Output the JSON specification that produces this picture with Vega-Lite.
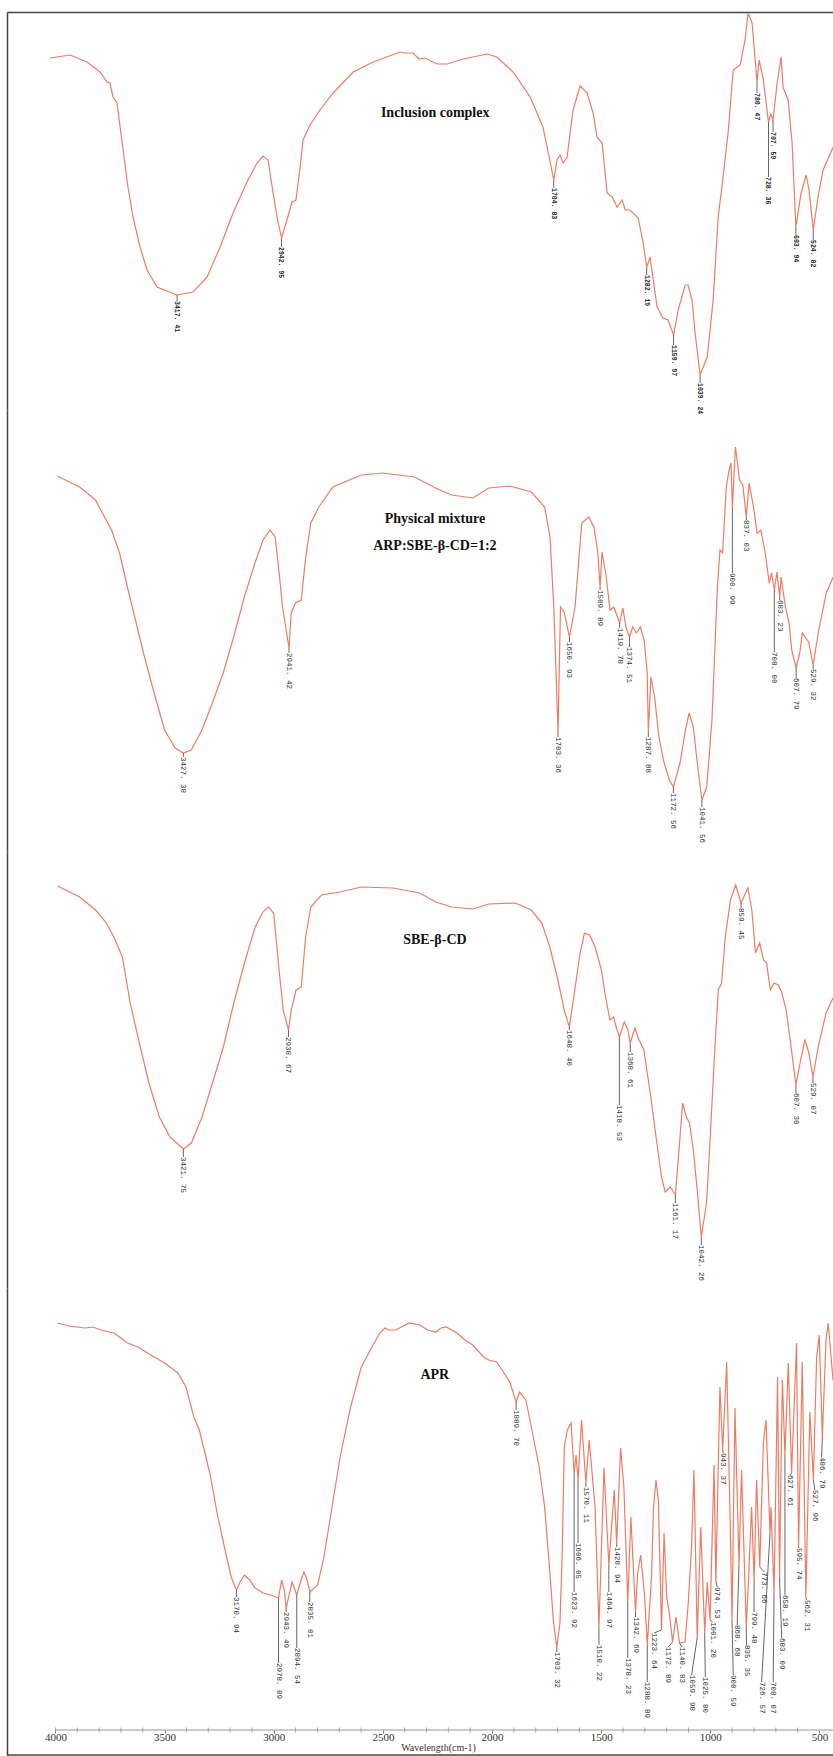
{
  "$schema": "https://vega.github.io/schema/vega-lite/v6.json",
  "background": "white",
  "padding": {"left": 6, "top": 12, "right": 0, "bottom": 0},
  "autosize": {"type": "pad"},
  "spacing": 0,
  "bounds": "flush",
  "config": {"view": {"stroke": null}, "axis": {"grid": false}},
  "datasets": {
    "s1": [{"nu":3995,"T":352},{"nu":3904,"T":355},{"nu":3827,"T":348},{"nu":3768,"T":338},{"nu":3736,"T":328},{"nu":3723,"T":327},{"nu":3709,"T":313},{"nu":3691,"T":307},{"nu":3663,"T":260},{"nu":3641,"T":223},{"nu":3618,"T":193},{"nu":3586,"T":163},{"nu":3554,"T":140},{"nu":3509,"T":123},{"nu":3417.41,"T":115},{"nu":3345,"T":118},{"nu":3281,"T":133},{"nu":3222,"T":163},{"nu":3163,"T":197},{"nu":3100,"T":228},{"nu":3054,"T":247},{"nu":3027,"T":254},{"nu":3004,"T":250},{"nu":2981,"T":217},{"nu":2963,"T":193},{"nu":2942.95,"T":172},{"nu":2918,"T":190},{"nu":2895,"T":208},{"nu":2877,"T":210},{"nu":2858,"T":243},{"nu":2845,"T":270},{"nu":2813,"T":285},{"nu":2768,"T":300},{"nu":2708,"T":317},{"nu":2617,"T":338},{"nu":2526,"T":348},{"nu":2404,"T":358},{"nu":2381,"T":357},{"nu":2345,"T":357},{"nu":2317,"T":351},{"nu":2290,"T":352},{"nu":2235,"T":346},{"nu":2190,"T":346},{"nu":2117,"T":351},{"nu":2008,"T":356},{"nu":1963,"T":353},{"nu":1890,"T":338},{"nu":1812,"T":313},{"nu":1754,"T":283},{"nu":1735,"T":263},{"nu":1704.83,"T":230},{"nu":1690,"T":250},{"nu":1676,"T":255},{"nu":1662,"T":247},{"nu":1644,"T":253},{"nu":1617,"T":300},{"nu":1585,"T":324},{"nu":1553,"T":317},{"nu":1526,"T":297},{"nu":1508,"T":273},{"nu":1485,"T":267},{"nu":1462,"T":217},{"nu":1439,"T":213},{"nu":1417,"T":203},{"nu":1394,"T":210},{"nu":1380,"T":200},{"nu":1358,"T":200},{"nu":1321,"T":192},{"nu":1298,"T":167},{"nu":1282.19,"T":143},{"nu":1267,"T":153},{"nu":1235,"T":103},{"nu":1208,"T":92},{"nu":1185,"T":90},{"nu":1159.97,"T":75},{"nu":1139,"T":100},{"nu":1107,"T":125},{"nu":1094,"T":125},{"nu":1076,"T":110},{"nu":1062,"T":77},{"nu":1039.24,"T":35},{"nu":1007,"T":53},{"nu":980,"T":110},{"nu":957,"T":193},{"nu":935,"T":233},{"nu":912,"T":277},{"nu":889,"T":340},{"nu":857,"T":345},{"nu":835,"T":370},{"nu":821,"T":397},{"nu":803,"T":387},{"nu":780.47,"T":328},{"nu":771,"T":350},{"nu":753,"T":332},{"nu":728.36,"T":288},{"nu":718,"T":296},{"nu":707.59,"T":290},{"nu":689,"T":327},{"nu":671,"T":353},{"nu":662,"T":323},{"nu":639,"T":310},{"nu":621,"T":267},{"nu":603.94,"T":183},{"nu":580,"T":217},{"nu":557,"T":235},{"nu":544,"T":220},{"nu":524.82,"T":180},{"nu":503,"T":213},{"nu":480,"T":240},{"nu":434,"T":263}],
    "k1": [{"nu":3417.41,"T":115,"lx":3417.41,"ly":109,"label":"3417. 41"},{"nu":2942.95,"T":172,"lx":2942.95,"ly":163,"label":"2942. 95"},{"nu":1704.83,"T":230,"lx":1704.83,"ly":222,"label":"1704. 83"},{"nu":1282.19,"T":143,"lx":1282.19,"ly":135,"label":"1282. 19"},{"nu":1159.97,"T":75,"lx":1159.97,"ly":65,"label":"1159. 97"},{"nu":1039.24,"T":35,"lx":1039.24,"ly":27,"label":"1039. 24"},{"nu":780.47,"T":328,"lx":780.47,"ly":317,"label":"780. 47"},{"nu":728.36,"T":288,"lx":728.36,"ly":233,"label":"728. 36"},{"nu":707.59,"T":290,"lx":707.59,"ly":278,"label":"707. 59"},{"nu":603.94,"T":183,"lx":603.94,"ly":175,"label":"603. 94"},{"nu":524.82,"T":180,"lx":524.82,"ly":170,"label":"524. 82"}],
    "s2": [{"nu":4007,"T":376},{"nu":3905,"T":365},{"nu":3832,"T":352},{"nu":3758,"T":322},{"nu":3721,"T":299},{"nu":3685,"T":265},{"nu":3648,"T":232},{"nu":3611,"T":199},{"nu":3562,"T":159},{"nu":3514,"T":122},{"nu":3465,"T":104},{"nu":3427.38,"T":99},{"nu":3391,"T":102},{"nu":3342,"T":122},{"nu":3294,"T":149},{"nu":3244,"T":179},{"nu":3196,"T":215},{"nu":3147,"T":255},{"nu":3098,"T":289},{"nu":3061,"T":312},{"nu":3029,"T":322},{"nu":3005,"T":315},{"nu":2988,"T":282},{"nu":2971,"T":245},{"nu":2941.42,"T":204},{"nu":2931,"T":239},{"nu":2912,"T":249},{"nu":2885,"T":252},{"nu":2866,"T":292},{"nu":2841,"T":329},{"nu":2804,"T":345},{"nu":2740,"T":365},{"nu":2609,"T":377},{"nu":2511,"T":379},{"nu":2364,"T":375},{"nu":2267,"T":364},{"nu":2193,"T":357},{"nu":2095,"T":354},{"nu":2022,"T":364},{"nu":1925,"T":366},{"nu":1826,"T":360},{"nu":1765,"T":345},{"nu":1740,"T":315},{"nu":1723,"T":245},{"nu":1703.36,"T":120},{"nu":1692,"T":245},{"nu":1675,"T":240},{"nu":1650.93,"T":215},{"nu":1625,"T":245},{"nu":1594,"T":329},{"nu":1562,"T":335},{"nu":1538,"T":325},{"nu":1520,"T":299},{"nu":1509.89,"T":265},{"nu":1501,"T":300},{"nu":1484,"T":279},{"nu":1464,"T":242},{"nu":1447,"T":245},{"nu":1419.78,"T":229},{"nu":1405,"T":244},{"nu":1391,"T":225},{"nu":1374.51,"T":215},{"nu":1360,"T":225},{"nu":1343,"T":219},{"nu":1324,"T":225},{"nu":1307,"T":212},{"nu":1293,"T":179},{"nu":1287.88,"T":120},{"nu":1276,"T":175},{"nu":1259,"T":155},{"nu":1239,"T":115},{"nu":1215,"T":89},{"nu":1191,"T":72},{"nu":1172.56,"T":65},{"nu":1142,"T":89},{"nu":1117,"T":122},{"nu":1100,"T":139},{"nu":1081,"T":125},{"nu":1064,"T":92},{"nu":1041.56,"T":52},{"nu":1019,"T":65},{"nu":995,"T":132},{"nu":970,"T":265},{"nu":958,"T":302},{"nu":946,"T":299},{"nu":929,"T":365},{"nu":916,"T":382},{"nu":907,"T":389},{"nu":900.99,"T":344},{"nu":887,"T":405},{"nu":868,"T":372},{"nu":853,"T":367},{"nu":837.03,"T":335},{"nu":824,"T":369},{"nu":804,"T":345},{"nu":787,"T":319},{"nu":770,"T":322},{"nu":750,"T":299},{"nu":731,"T":269},{"nu":721,"T":279},{"nu":708.0,"T":262},{"nu":696,"T":280},{"nu":683.23,"T":255},{"nu":677,"T":275},{"nu":657,"T":245},{"nu":640,"T":229},{"nu":628,"T":202},{"nu":607.79,"T":184},{"nu":591,"T":199},{"nu":579,"T":219},{"nu":567,"T":215},{"nu":550,"T":210},{"nu":529.32,"T":187},{"nu":506,"T":219},{"nu":469,"T":259},{"nu":437,"T":275}],
    "k2": [{"nu":3427.38,"T":99,"lx":3427.38,"ly":95,"label":"3427. 38"},{"nu":2941.42,"T":204,"lx":2941.42,"ly":199,"label":"2941. 42"},{"nu":1703.36,"T":120,"lx":1703.36,"ly":115,"label":"1703. 36"},{"nu":1650.93,"T":215,"lx":1650.93,"ly":210,"label":"1650. 93"},{"nu":1509.89,"T":265,"lx":1509.89,"ly":262,"label":"1509. 89"},{"nu":1419.78,"T":229,"lx":1419.78,"ly":224,"label":"1419. 78"},{"nu":1374.51,"T":215,"lx":1374.51,"ly":205,"label":"1374. 51"},{"nu":1287.88,"T":120,"lx":1287.88,"ly":115,"label":"1287. 88"},{"nu":1172.56,"T":65,"lx":1172.56,"ly":59,"label":"1172. 56"},{"nu":1041.56,"T":52,"lx":1041.56,"ly":45,"label":"1041. 56"},{"nu":900.99,"T":344,"lx":900.99,"ly":279,"label":"900. 99"},{"nu":837.03,"T":335,"lx":837.03,"ly":332,"label":"837. 03"},{"nu":708.0,"T":262,"lx":708.0,"ly":200,"label":"708. 00"},{"nu":683.23,"T":255,"lx":683.23,"ly":252,"label":"683. 23"},{"nu":607.79,"T":184,"lx":607.79,"ly":174,"label":"607. 79"},{"nu":529.32,"T":187,"lx":529.32,"ly":183,"label":"529. 32"}],
    "s3": [{"nu":4000,"T":402},{"nu":3898,"T":391},{"nu":3825,"T":378},{"nu":3775,"T":365},{"nu":3739,"T":350},{"nu":3702,"T":331},{"nu":3666,"T":285},{"nu":3624,"T":245},{"nu":3580,"T":205},{"nu":3532,"T":171},{"nu":3483,"T":151},{"nu":3421.75,"T":139},{"nu":3385,"T":145},{"nu":3336,"T":171},{"nu":3288,"T":205},{"nu":3238,"T":241},{"nu":3190,"T":285},{"nu":3141,"T":325},{"nu":3092,"T":361},{"nu":3056,"T":376},{"nu":3031,"T":381},{"nu":3007,"T":375},{"nu":2982,"T":318},{"nu":2963,"T":278},{"nu":2938.67,"T":258},{"nu":2926,"T":278},{"nu":2904,"T":298},{"nu":2880,"T":301},{"nu":2860,"T":351},{"nu":2836,"T":381},{"nu":2787,"T":393},{"nu":2702,"T":396},{"nu":2604,"T":401},{"nu":2458,"T":400},{"nu":2336,"T":395},{"nu":2262,"T":386},{"nu":2189,"T":381},{"nu":2092,"T":379},{"nu":2019,"T":384},{"nu":1896,"T":385},{"nu":1823,"T":378},{"nu":1775,"T":365},{"nu":1738,"T":341},{"nu":1701,"T":308},{"nu":1672,"T":278},{"nu":1648.4,"T":261},{"nu":1628,"T":291},{"nu":1599,"T":335},{"nu":1579,"T":355},{"nu":1555,"T":353},{"nu":1530,"T":341},{"nu":1501,"T":318},{"nu":1482,"T":291},{"nu":1462,"T":268},{"nu":1445,"T":271},{"nu":1433,"T":261},{"nu":1418.53,"T":251},{"nu":1396,"T":266},{"nu":1379,"T":258},{"nu":1368.61,"T":245},{"nu":1347,"T":260},{"nu":1328,"T":248},{"nu":1306,"T":238},{"nu":1274,"T":191},{"nu":1250,"T":151},{"nu":1225,"T":111},{"nu":1208,"T":96},{"nu":1184,"T":101},{"nu":1161.17,"T":93},{"nu":1147,"T":131},{"nu":1128,"T":185},{"nu":1111,"T":171},{"nu":1096,"T":165},{"nu":1079,"T":138},{"nu":1062,"T":101},{"nu":1042.26,"T":51},{"nu":1018,"T":85},{"nu":1001,"T":151},{"nu":981,"T":235},{"nu":964,"T":298},{"nu":949,"T":305},{"nu":932,"T":351},{"nu":908,"T":388},{"nu":884,"T":403},{"nu":859.45,"T":385},{"nu":847,"T":391},{"nu":828,"T":400},{"nu":810,"T":378},{"nu":793,"T":335},{"nu":774,"T":345},{"nu":756,"T":328},{"nu":742,"T":325},{"nu":725,"T":298},{"nu":708,"T":305},{"nu":688,"T":303},{"nu":672,"T":295},{"nu":652,"T":278},{"nu":632,"T":245},{"nu":607.3,"T":203},{"nu":583,"T":231},{"nu":566,"T":248},{"nu":549,"T":236},{"nu":529.07,"T":211},{"nu":505,"T":241},{"nu":469,"T":275},{"nu":437,"T":290}],
    "k3": [{"nu":3421.75,"T":139,"lx":3421.75,"ly":131,"label":"3421. 75"},{"nu":2938.67,"T":258,"lx":2938.67,"ly":251,"label":"2938. 67"},{"nu":1648.4,"T":261,"lx":1648.4,"ly":258,"label":"1648. 40"},{"nu":1418.53,"T":251,"lx":1418.53,"ly":183,"label":"1418. 53"},{"nu":1368.61,"T":245,"lx":1368.61,"ly":236,"label":"1368. 61"},{"nu":1161.17,"T":93,"lx":1161.17,"ly":85,"label":"1161. 17"},{"nu":1042.26,"T":51,"lx":1042.26,"ly":43,"label":"1042. 26"},{"nu":859.45,"T":385,"lx":859.45,"ly":380,"label":"859. 45"},{"nu":607.3,"T":203,"lx":607.3,"ly":195,"label":"607. 30"},{"nu":529.07,"T":211,"lx":529.07,"ly":205,"label":"529. 07"}],
    "s4": [{"nu":3991,"T":407},{"nu":3938,"T":404},{"nu":3901,"T":403},{"nu":3865,"T":402},{"nu":3828,"T":403},{"nu":3792,"T":400},{"nu":3755,"T":398},{"nu":3731,"T":397},{"nu":3707,"T":393},{"nu":3670,"T":387},{"nu":3646,"T":385},{"nu":3621,"T":383},{"nu":3585,"T":378},{"nu":3548,"T":373},{"nu":3500,"T":367},{"nu":3439,"T":357},{"nu":3402,"T":343},{"nu":3366,"T":313},{"nu":3341,"T":300},{"nu":3293,"T":257},{"nu":3256,"T":213},{"nu":3220,"T":177},{"nu":3195,"T":153},{"nu":3170.94,"T":140},{"nu":3154,"T":148},{"nu":3134,"T":155},{"nu":3110,"T":150},{"nu":3086,"T":142},{"nu":3049,"T":137},{"nu":3013,"T":135},{"nu":2978.09,"T":132},{"nu":2964,"T":150},{"nu":2952,"T":140},{"nu":2943.49,"T":122},{"nu":2916,"T":148},{"nu":2894.54,"T":135},{"nu":2879,"T":147},{"nu":2862,"T":158},{"nu":2847,"T":150},{"nu":2835.01,"T":138},{"nu":2799,"T":145},{"nu":2770,"T":173},{"nu":2733,"T":223},{"nu":2696,"T":273},{"nu":2648,"T":323},{"nu":2599,"T":363},{"nu":2550,"T":383},{"nu":2514,"T":397},{"nu":2490,"T":402},{"nu":2472,"T":400},{"nu":2441,"T":400},{"nu":2380,"T":407},{"nu":2331,"T":405},{"nu":2295,"T":400},{"nu":2258,"T":398},{"nu":2234,"T":402},{"nu":2210,"T":403},{"nu":2161,"T":397},{"nu":2124,"T":390},{"nu":2088,"T":385},{"nu":2039,"T":373},{"nu":2015,"T":370},{"nu":1979,"T":368},{"nu":1954,"T":360},{"nu":1917,"T":347},{"nu":1889.7,"T":328},{"nu":1874,"T":338},{"nu":1845,"T":330},{"nu":1820,"T":303},{"nu":1784,"T":263},{"nu":1759,"T":223},{"nu":1735,"T":157},{"nu":1718,"T":107},{"nu":1703.32,"T":83},{"nu":1689,"T":107},{"nu":1679,"T":173},{"nu":1669,"T":283},{"nu":1655,"T":300},{"nu":1638,"T":307},{"nu":1623.92,"T":257},{"nu":1615,"T":275},{"nu":1606.05,"T":250},{"nu":1590,"T":310},{"nu":1570.11,"T":247},{"nu":1555,"T":290},{"nu":1528,"T":223},{"nu":1510.22,"T":103},{"nu":1487,"T":262},{"nu":1464.97,"T":165},{"nu":1440,"T":240},{"nu":1428.94,"T":187},{"nu":1411,"T":282},{"nu":1396,"T":243},{"nu":1378.23,"T":128},{"nu":1364,"T":213},{"nu":1342.69,"T":118},{"nu":1333,"T":157},{"nu":1319,"T":175},{"nu":1302,"T":137},{"nu":1288.89,"T":85},{"nu":1269,"T":155},{"nu":1261,"T":220},{"nu":1249,"T":250},{"nu":1238,"T":230},{"nu":1223.64,"T":100},{"nu":1212,"T":197},{"nu":1200,"T":133},{"nu":1188,"T":117},{"nu":1172.89,"T":88},{"nu":1157,"T":113},{"nu":1140.83,"T":87},{"nu":1116,"T":88},{"nu":1101,"T":127},{"nu":1086,"T":183},{"nu":1075,"T":260},{"nu":1059.98,"T":92},{"nu":1044,"T":203},{"nu":1025.8,"T":97},{"nu":1014,"T":148},{"nu":1001.2,"T":110},{"nu":983,"T":265},{"nu":974.53,"T":148},{"nu":956,"T":343},{"nu":943.37,"T":280},{"nu":925,"T":368},{"nu":910,"T":217},{"nu":900.59,"T":110},{"nu":887,"T":322},{"nu":868.68,"T":165},{"nu":857,"T":260},{"nu":835.35,"T":103},{"nu":823,"T":160},{"nu":811,"T":223},{"nu":799.48,"T":150},{"nu":788,"T":250},{"nu":773.66,"T":163},{"nu":757,"T":287},{"nu":745,"T":310},{"nu":726.57,"T":197},{"nu":722,"T":223},{"nu":708.07,"T":137},{"nu":692,"T":353},{"nu":683.09,"T":153},{"nu":670,"T":350},{"nu":658.19,"T":275},{"nu":643,"T":367},{"nu":627.61,"T":257},{"nu":605,"T":387},{"nu":595.74,"T":183},{"nu":579,"T":368},{"nu":562.31,"T":132},{"nu":544,"T":318},{"nu":527.96,"T":250},{"nu":513,"T":373},{"nu":501,"T":395},{"nu":486.79,"T":293},{"nu":470,"T":390},{"nu":460,"T":407},{"nu":438,"T":350}],
    "k4": [{"nu":3170.94,"T":140,"lx":3170.94,"ly":133,"label":"3170. 94"},{"nu":2978.09,"T":132,"lx":2978.09,"ly":67,"label":"2978. 09"},{"nu":2943.49,"T":122,"lx":2943.49,"ly":118,"label":"2943. 49"},{"nu":2894.54,"T":135,"lx":2894.54,"ly":82,"label":"2894. 54"},{"nu":2835.01,"T":138,"lx":2835.01,"ly":128,"label":"2835. 01"},{"nu":1889.7,"T":328,"lx":1889.7,"ly":320,"label":"1889. 70"},{"nu":1703.32,"T":83,"lx":1703.32,"ly":78,"label":"1703. 32"},{"nu":1623.92,"T":257,"lx":1623.92,"ly":138,"label":"1623. 92"},{"nu":1606.05,"T":250,"lx":1606.05,"ly":187,"label":"1606. 05"},{"nu":1570.11,"T":247,"lx":1570.11,"ly":243,"label":"1570. 11"},{"nu":1510.22,"T":103,"lx":1510.22,"ly":85,"label":"1510. 22"},{"nu":1464.97,"T":165,"lx":1464.97,"ly":138,"label":"1464. 97"},{"nu":1428.94,"T":187,"lx":1428.94,"ly":183,"label":"1428. 94"},{"nu":1378.23,"T":128,"lx":1378.23,"ly":72,"label":"1378. 23"},{"nu":1342.69,"T":118,"lx":1342.69,"ly":113,"label":"1342. 69"},{"nu":1288.89,"T":85,"lx":1288.89,"ly":48,"label":"1288. 89"},{"nu":1223.64,"T":100,"lx":1258,"ly":97,"label":"1223. 64"},{"nu":1172.89,"T":88,"lx":1193,"ly":83,"label":"1172. 89"},{"nu":1140.83,"T":87,"lx":1131,"ly":83,"label":"1140. 83"},{"nu":1059.98,"T":92,"lx":1086,"ly":55,"label":"1059. 98"},{"nu":1025.8,"T":97,"lx":1023,"ly":53,"label":"1025. 80"},{"nu":1001.2,"T":110,"lx":990,"ly":108,"label":"1001. 20"},{"nu":974.53,"T":148,"lx":968,"ly":143,"label":"974. 53"},{"nu":943.37,"T":280,"lx":941,"ly":277,"label":"943. 37"},{"nu":900.59,"T":110,"lx":895,"ly":55,"label":"900. 59"},{"nu":868.68,"T":165,"lx":877,"ly":105,"label":"868. 68"},{"nu":835.35,"T":103,"lx":834,"ly":85,"label":"835. 35"},{"nu":799.48,"T":150,"lx":800,"ly":118,"label":"799. 48"},{"nu":773.66,"T":163,"lx":753,"ly":158,"label":"773. 66"},{"nu":726.57,"T":197,"lx":765,"ly":48,"label":"726. 57"},{"nu":708.07,"T":137,"lx":712,"ly":48,"label":"708. 07"},{"nu":683.09,"T":153,"lx":673,"ly":92,"label":"683. 09"},{"nu":658.19,"T":275,"lx":658,"ly":135,"label":"658. 19"},{"nu":627.61,"T":257,"lx":635,"ly":255,"label":"627. 61"},{"nu":595.74,"T":183,"lx":594,"ly":182,"label":"595. 74"},{"nu":562.31,"T":132,"lx":559,"ly":130,"label":"562. 31"},{"nu":527.96,"T":250,"lx":521,"ly":240,"label":"527. 96"},{"nu":486.79,"T":293,"lx":490,"ly":273,"label":"486. 79"}]
  },
  "vconcat": [
    {
      "width": 826, "height": 398,
      "layer": [
        {"data": {"name": "s1"},
         "mark": {"type": "line", "color": "#EE7B63", "strokeWidth": 1.2, "clip": true},
         "encoding": {
           "x": {"field": "nu", "type": "quantitative", "scale": {"domain": [4191, 435], "nice": false, "zero": false},
                 "axis": {"orient": "top", "domain": true, "domainColor": "#444", "domainWidth": 1.5, "ticks": false, "labels": false, "grid": false, "title": null}},
           "y": {"field": "T", "type": "quantitative", "scale": {"domain": [0, 398], "nice": false, "zero": false},
                 "axis": {"orient": "left", "domain": true, "domainColor": "#444", "domainWidth": 1.5, "ticks": false, "labels": false, "grid": false, "title": null}}
         }},
        {"data": {"name": "k1"},
         "mark": {"type": "rule", "color": "#666", "strokeWidth": 1},
         "encoding": {
           "x": {"field": "nu", "type": "quantitative", "axis": {"orient": "top", "domain": true, "domainColor": "#444", "domainWidth": 1.5, "ticks": false, "labels": false, "grid": false, "title": null}},
           "y": {"field": "T", "type": "quantitative", "axis": {"orient": "left", "domain": true, "domainColor": "#444", "domainWidth": 1.5, "ticks": false, "labels": false, "grid": false, "title": null}},
           "x2": {"field": "lx"}, "y2": {"field": "ly"}}},
        {"data": {"name": "k1"},
         "mark": {"type": "text", "angle": 90, "align": "left", "baseline": "middle", "font": "Liberation Mono", "fontSize": 6.5, "fontWeight": "bold", "color": "#222"},
         "encoding": {
           "x": {"field": "lx", "type": "quantitative", "axis": {"orient": "top", "domain": true, "domainColor": "#444", "domainWidth": 1.5, "ticks": false, "labels": false, "grid": false, "title": null}},
           "y": {"field": "ly", "type": "quantitative", "axis": {"orient": "left", "domain": true, "domainColor": "#444", "domainWidth": 1.5, "ticks": false, "labels": false, "grid": false, "title": null}},
           "text": {"field": "label"}}},
        {"data": {"values": [{"nu": 2244, "T": 297, "name": "Inclusion complex"}]},
         "mark": {"type": "text", "font": "Liberation Serif", "fontSize": 14, "fontWeight": "bold", "color": "#111", "align": "center", "baseline": "middle"},
         "encoding": {
           "x": {"field": "nu", "type": "quantitative", "axis": {"orient": "top", "domain": true, "domainColor": "#444", "domainWidth": 1.5, "ticks": false, "labels": false, "grid": false, "title": null}},
           "y": {"field": "T", "type": "quantitative", "axis": {"orient": "left", "domain": true, "domainColor": "#444", "domainWidth": 1.5, "ticks": false, "labels": false, "grid": false, "title": null}},
           "text": {"field": "name"}}}
      ]
    },
    {
      "width": 826, "height": 442,
      "layer": [
        {"data": {"name": "s2"},
         "mark": {"type": "line", "color": "#EE7B63", "strokeWidth": 1.2, "clip": true},
         "encoding": {
           "x": {"field": "nu", "type": "quantitative", "scale": {"domain": [4239, 438], "nice": false, "zero": false},
                 "axis": {"domain": false, "ticks": false, "labels": false, "grid": false, "title": null}},
           "y": {"field": "T", "type": "quantitative", "scale": {"domain": [0, 442], "nice": false, "zero": false},
                 "axis": {"orient": "left", "domain": true, "domainColor": "#444", "domainWidth": 1.5, "ticks": false, "labels": false, "grid": false, "title": null}}
         }},
        {"data": {"name": "k2"},
         "mark": {"type": "rule", "color": "#666", "strokeWidth": 1},
         "encoding": {
           "x": {"field": "nu", "type": "quantitative", "axis": {"domain": false, "ticks": false, "labels": false, "grid": false, "title": null}},
           "y": {"field": "T", "type": "quantitative", "axis": {"orient": "left", "domain": true, "domainColor": "#444", "domainWidth": 1.5, "ticks": false, "labels": false, "grid": false, "title": null}},
           "x2": {"field": "lx"}, "y2": {"field": "ly"}}},
        {"data": {"name": "k2"},
         "mark": {"type": "text", "angle": 90, "align": "left", "baseline": "middle", "font": "Liberation Mono", "fontSize": 7.5, "color": "#333"},
         "encoding": {
           "x": {"field": "lx", "type": "quantitative", "axis": {"domain": false, "ticks": false, "labels": false, "grid": false, "title": null}},
           "y": {"field": "ly", "type": "quantitative", "axis": {"orient": "left", "domain": true, "domainColor": "#444", "domainWidth": 1.5, "ticks": false, "labels": false, "grid": false, "title": null}},
           "text": {"field": "label"}}},
        {"data": {"values": [{"nu": 2270, "T": 333, "name": "Physical mixture"}, {"nu": 2270, "T": 306, "name": "ARP:SBE-β-CD=1:2"}]},
         "mark": {"type": "text", "font": "Liberation Serif", "fontSize": 14, "fontWeight": "bold", "color": "#111", "align": "center", "baseline": "middle"},
         "encoding": {
           "x": {"field": "nu", "type": "quantitative", "axis": {"domain": false, "ticks": false, "labels": false, "grid": false, "title": null}},
           "y": {"field": "T", "type": "quantitative", "axis": {"orient": "left", "domain": true, "domainColor": "#444", "domainWidth": 1.5, "ticks": false, "labels": false, "grid": false, "title": null}},
           "text": {"field": "name"}}}
      ]
    },
    {
      "width": 826, "height": 436,
      "layer": [
        {"data": {"name": "s3"},
         "mark": {"type": "line", "color": "#EE7B63", "strokeWidth": 1.2, "clip": true},
         "encoding": {
           "x": {"field": "nu", "type": "quantitative", "scale": {"domain": [4232, 437], "nice": false, "zero": false},
                 "axis": {"domain": false, "ticks": false, "labels": false, "grid": false, "title": null}},
           "y": {"field": "T", "type": "quantitative", "scale": {"domain": [0, 436], "nice": false, "zero": false},
                 "axis": {"orient": "left", "domain": true, "domainColor": "#444", "domainWidth": 1.5, "ticks": false, "labels": false, "grid": false, "title": null}}
         }},
        {"data": {"name": "k3"},
         "mark": {"type": "rule", "color": "#666", "strokeWidth": 1},
         "encoding": {
           "x": {"field": "nu", "type": "quantitative", "axis": {"domain": false, "ticks": false, "labels": false, "grid": false, "title": null}},
           "y": {"field": "T", "type": "quantitative", "axis": {"orient": "left", "domain": true, "domainColor": "#444", "domainWidth": 1.5, "ticks": false, "labels": false, "grid": false, "title": null}},
           "x2": {"field": "lx"}, "y2": {"field": "ly"}}},
        {"data": {"name": "k3"},
         "mark": {"type": "text", "angle": 90, "align": "left", "baseline": "middle", "font": "Liberation Mono", "fontSize": 7.5, "color": "#333"},
         "encoding": {
           "x": {"field": "lx", "type": "quantitative", "axis": {"domain": false, "ticks": false, "labels": false, "grid": false, "title": null}},
           "y": {"field": "ly", "type": "quantitative", "axis": {"orient": "left", "domain": true, "domainColor": "#444", "domainWidth": 1.5, "ticks": false, "labels": false, "grid": false, "title": null}},
           "text": {"field": "label"}}},
        {"data": {"values": [{"nu": 2266, "T": 348, "name": "SBE-β-CD"}]},
         "mark": {"type": "text", "font": "Liberation Serif", "fontSize": 14, "fontWeight": "bold", "color": "#111", "align": "center", "baseline": "middle"},
         "encoding": {
           "x": {"field": "nu", "type": "quantitative", "axis": {"domain": false, "ticks": false, "labels": false, "grid": false, "title": null}},
           "y": {"field": "T", "type": "quantitative", "axis": {"orient": "left", "domain": true, "domainColor": "#444", "domainWidth": 1.5, "ticks": false, "labels": false, "grid": false, "title": null}},
           "text": {"field": "name"}}}
      ]
    },
    {
      "width": 826, "height": 467,
      "layer": [
        {"data": {"name": "s4"},
         "mark": {"type": "line", "color": "#EE7B63", "strokeWidth": 1.2, "clip": true},
         "encoding": {
           "x": {"field": "nu", "type": "quantitative", "scale": {"domain": [4222, 438], "nice": false, "zero": false},
                 "axis": {"orient": "bottom", "offset": -25, "domain": false, "grid": false, "values": [4000,3500,3000,2500,2000,1500,1000,500], "format": "d", "ticks": true, "tickSize": 3, "tickColor": "#777", "tickWidth": 1, "labelFont": "Liberation Serif", "labelFontSize": 11, "labelColor": "#333", "labelPadding": -2, "labelOverlap": false, "labelFlush": false, "title": "Wavelength(cm-1)", "titleFont": "Liberation Serif", "titleFontSize": 10, "titleFontWeight": "normal", "titleColor": "#333", "titlePadding": 0, "titleX": 431}},
           "y": {"field": "T", "type": "quantitative", "scale": {"domain": [-25, 442], "nice": false, "zero": false},
                 "axis": {"orient": "left", "domain": true, "domainColor": "#444", "domainWidth": 1.5, "ticks": false, "labels": false, "grid": false, "title": null}}
         }},
        {"data": {"name": "k4"},
         "mark": {"type": "rule", "color": "#666", "strokeWidth": 1},
         "encoding": {
           "x": {"field": "nu", "type": "quantitative", "axis": {"orient": "bottom", "offset": -25, "domain": false, "grid": false, "values": [4000,3500,3000,2500,2000,1500,1000,500], "format": "d", "ticks": true, "tickSize": 3, "tickColor": "#777", "tickWidth": 1, "labelFont": "Liberation Serif", "labelFontSize": 11, "labelColor": "#333", "labelPadding": -2, "labelOverlap": false, "labelFlush": false, "title": "Wavelength(cm-1)", "titleFont": "Liberation Serif", "titleFontSize": 10, "titleFontWeight": "normal", "titleColor": "#333", "titlePadding": 0, "titleX": 431}},
           "y": {"field": "T", "type": "quantitative", "axis": {"orient": "left", "domain": true, "domainColor": "#444", "domainWidth": 1.5, "ticks": false, "labels": false, "grid": false, "title": null}},
           "x2": {"field": "lx"}, "y2": {"field": "ly"}}},
        {"data": {"name": "k4"},
         "mark": {"type": "text", "angle": 90, "align": "left", "baseline": "middle", "font": "Liberation Mono", "fontSize": 7.5, "color": "#333"},
         "encoding": {
           "x": {"field": "lx", "type": "quantitative", "axis": {"orient": "bottom", "offset": -25, "domain": false, "grid": false, "values": [4000,3500,3000,2500,2000,1500,1000,500], "format": "d", "ticks": true, "tickSize": 3, "tickColor": "#777", "tickWidth": 1, "labelFont": "Liberation Serif", "labelFontSize": 11, "labelColor": "#333", "labelPadding": -2, "labelOverlap": false, "labelFlush": false, "title": "Wavelength(cm-1)", "titleFont": "Liberation Serif", "titleFontSize": 10, "titleFontWeight": "normal", "titleColor": "#333", "titlePadding": 0, "titleX": 431}},
           "y": {"field": "ly", "type": "quantitative", "axis": {"orient": "left", "domain": true, "domainColor": "#444", "domainWidth": 1.5, "ticks": false, "labels": false, "grid": false, "title": null}},
           "text": {"field": "label"}}},
        {"data": {"values": [{"nu": 2262, "T": 355, "name": "APR"}]},
         "mark": {"type": "text", "font": "Liberation Serif", "fontSize": 14, "fontWeight": "bold", "color": "#111", "align": "center", "baseline": "middle"},
         "encoding": {
           "x": {"field": "nu", "type": "quantitative", "axis": {"orient": "bottom", "offset": -25, "domain": false, "grid": false, "values": [4000,3500,3000,2500,2000,1500,1000,500], "format": "d", "ticks": true, "tickSize": 3, "tickColor": "#777", "tickWidth": 1, "labelFont": "Liberation Serif", "labelFontSize": 11, "labelColor": "#333", "labelPadding": -2, "labelOverlap": false, "labelFlush": false, "title": "Wavelength(cm-1)", "titleFont": "Liberation Serif", "titleFontSize": 10, "titleFontWeight": "normal", "titleColor": "#333", "titlePadding": 0, "titleX": 431}},
           "y": {"field": "T", "type": "quantitative", "axis": {"orient": "left", "domain": true, "domainColor": "#444", "domainWidth": 1.5, "ticks": false, "labels": false, "grid": false, "title": null}},
           "text": {"field": "name"}}},
        {"data": {"values": [{"nu": 4000, "lx": 438, "T": 0}]},
         "mark": {"type": "rule", "color": "#999", "strokeWidth": 1},
         "encoding": {
           "x": {"field": "nu", "type": "quantitative", "axis": {"orient": "bottom", "offset": -25, "domain": false, "grid": false, "values": [4000,3500,3000,2500,2000,1500,1000,500], "format": "d", "ticks": true, "tickSize": 3, "tickColor": "#777", "tickWidth": 1, "labelFont": "Liberation Serif", "labelFontSize": 11, "labelColor": "#333", "labelPadding": -2, "labelOverlap": false, "labelFlush": false, "title": "Wavelength(cm-1)", "titleFont": "Liberation Serif", "titleFontSize": 10, "titleFontWeight": "normal", "titleColor": "#333", "titlePadding": 0, "titleX": 431}},
           "x2": {"field": "lx"},
           "y": {"field": "T", "type": "quantitative", "axis": {"orient": "left", "domain": true, "domainColor": "#444", "domainWidth": 1.5, "ticks": false, "labels": false, "grid": false, "title": null}}}},
        {"data": {"values": [{"nu": 4000, "T": 0}, {"nu": 3900, "T": 0}, {"nu": 3800, "T": 0}, {"nu": 3700, "T": 0}, {"nu": 3600, "T": 0}, {"nu": 3400, "T": 0}, {"nu": 3300, "T": 0}, {"nu": 3200, "T": 0}, {"nu": 3100, "T": 0}, {"nu": 2900, "T": 0}, {"nu": 2800, "T": 0}, {"nu": 2700, "T": 0}, {"nu": 2600, "T": 0}, {"nu": 2400, "T": 0}, {"nu": 2300, "T": 0}, {"nu": 2200, "T": 0}, {"nu": 2100, "T": 0}, {"nu": 1900, "T": 0}, {"nu": 1800, "T": 0}, {"nu": 1700, "T": 0}, {"nu": 1600, "T": 0}, {"nu": 1400, "T": 0}, {"nu": 1300, "T": 0}, {"nu": 1200, "T": 0}, {"nu": 1100, "T": 0}, {"nu": 900, "T": 0}, {"nu": 800, "T": 0}, {"nu": 700, "T": 0}, {"nu": 600, "T": 0}]},
         "mark": {"type": "tick", "orient": "vertical", "color": "#888", "size": 5, "thickness": 1},
         "encoding": {
           "x": {"field": "nu", "type": "quantitative", "axis": {"orient": "bottom", "offset": -25, "domain": false, "grid": false, "values": [4000,3500,3000,2500,2000,1500,1000,500], "format": "d", "ticks": true, "tickSize": 3, "tickColor": "#777", "tickWidth": 1, "labelFont": "Liberation Serif", "labelFontSize": 11, "labelColor": "#333", "labelPadding": -2, "labelOverlap": false, "labelFlush": false, "title": "Wavelength(cm-1)", "titleFont": "Liberation Serif", "titleFontSize": 10, "titleFontWeight": "normal", "titleColor": "#333", "titlePadding": 0, "titleX": 431}},
           "y": {"field": "T", "type": "quantitative", "axis": {"orient": "left", "domain": true, "domainColor": "#444", "domainWidth": 1.5, "ticks": false, "labels": false, "grid": false, "title": null}}}},
        {"data": {"values": [{"nu": 4222, "lx": 438, "T": -25}]},
         "mark": {"type": "rule", "color": "#444", "strokeWidth": 1.5},
         "encoding": {
           "x": {"field": "nu", "type": "quantitative", "axis": {"orient": "bottom", "offset": -25, "domain": false, "grid": false, "values": [4000,3500,3000,2500,2000,1500,1000,500], "format": "d", "ticks": true, "tickSize": 3, "tickColor": "#777", "tickWidth": 1, "labelFont": "Liberation Serif", "labelFontSize": 11, "labelColor": "#333", "labelPadding": -2, "labelOverlap": false, "labelFlush": false, "title": "Wavelength(cm-1)", "titleFont": "Liberation Serif", "titleFontSize": 10, "titleFontWeight": "normal", "titleColor": "#333", "titlePadding": 0, "titleX": 431}},
           "x2": {"field": "lx"},
           "y": {"field": "T", "type": "quantitative", "axis": {"orient": "left", "domain": true, "domainColor": "#444", "domainWidth": 1.5, "ticks": false, "labels": false, "grid": false, "title": null}}}}
      ]
    }
  ]
}
